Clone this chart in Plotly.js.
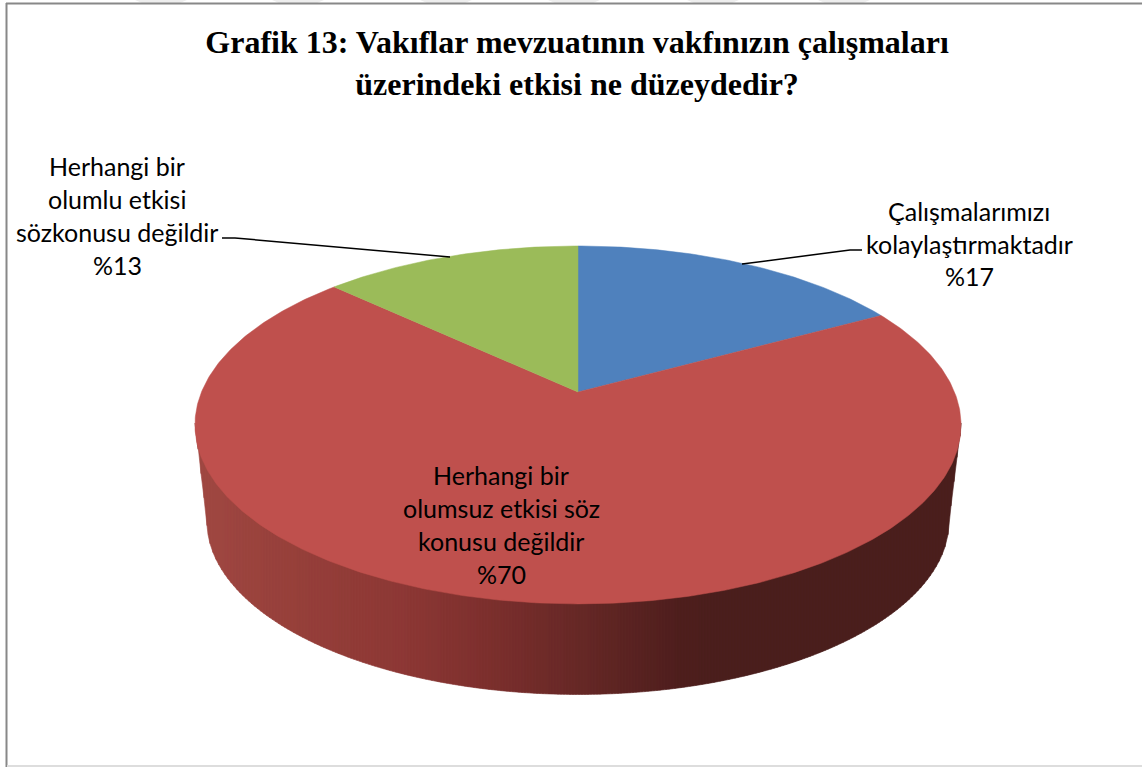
<!DOCTYPE html>
<html><head><meta charset="utf-8">
<script src="https://cdn.plot.ly/plotly-3.0.1.min.js"></script>
<style>html,body{margin:0;padding:0;background:#fff}#c{width:1142px;height:767px}</style>
</head><body><div id="c"></div>
<script>
const titleText = "Grafik 13: Vakıflar mevzuatının vakfınızın çalışmaları<br>üzerindeki etkisi ne düzeydedir?";
const categories = ["Çalışmalarımızı kolaylaştırmaktadır","Herhangi bir olumsuz etkisi söz konusu değildir","Herhangi bir olumlu etkisi sözkonusu değildir"];
const values = [17,70,13];
const sliceColors = ["#4F81BD","#BF504D","#9BBB59"];
const labelLines = [
  ["Çalışmalarımızı","kolaylaştırmaktadır","%17"],
  ["Herhangi bir","olumsuz etkisi söz","konusu değildir","%70"],
  ["Herhangi bir","olumlu etkisi","sözkonusu değildir","%13"]
];
const labelX = [969,501,117];
const labelY = [[211,244,276],[475,508,541,574],[166,199,232,265]];
const leaderX = [[742,850,862],null,[450,235,222]];
const leaderY = [[264,250,250],null,[257,238,238]];
const shadeX = [195,300,400,480,580,680,725,965];
const shadeR = [160,150,141,126,102,78,74,74];
const shadeG = [72,63,56,48,40,30,30,30];
const shadeB = [66,58,53,46,38,29,29,29];
const stripeStart = [135,272,420,548,687,818];

// perspective disc: apex and radii in page pixels
const cx=578, cy=392, A=172.9, D=376.5, C=0.184;
function proj(a){ // a = clockwise fraction of the turn from top
  const t=a*2*Math.PI, u=Math.sin(t), v=Math.cos(t), w=1+C*v;
  return [cx+D*u/w, cy-A*v/w];
}
const ex=383, ey=179, ecy=425, bs=0.969, bcy=521;
const traces=[];
function shade(x){
  let i=0; while(i<shadeX.length-2 && x>shadeX[i+1]) i++;
  const f=Math.min(1,Math.max(0,(x-shadeX[i])/(shadeX[i+1]-shadeX[i])));
  const m=a=>Math.round(a[i]+(a[i+1]-a[i])*f);
  return `rgb(${m(shadeR)},${m(shadeG)},${m(shadeB)})`;
}
function topY(dx){return ecy+ey*Math.sqrt(Math.max(0,1-dx*dx/(ex*ex)));}
function botY(dx){
  const r=ex*bs, a=Math.abs(dx);
  if(a>=r) return ecy+(ex-a)/(ex-r)*(bcy-ecy);
  return bcy+ey*bs*Math.sqrt(1-a*a/(r*r));
}
for(let x=cx-ex;x<cx+ex;x+=3){
  const xs=[],ys=[],b=[];
  for(let k=0;k<=3;k++){const p=Math.min(x+k,cx+ex);xs.push(p);ys.push(topY(p-cx)-2);b.push([p,botY(p-cx)]);}
  b.reverse().forEach(q=>{xs.push(q[0]);ys.push(q[1]);});
  xs.push(xs[0]);ys.push(ys[0]);
  traces.push({type:"scatter",mode:"lines",x:xs,y:ys,fill:"toself",fillcolor:shade(x),
    line:{color:shade(x),width:0.6},hoverinfo:"skip",showlegend:false});
}
const total=values.reduce((a,b)=>a+b,0);
let acc=0;
values.forEach((v,i)=>{
  const xs=[cx],ys=[cy],n=Math.max(8,Math.round(v*6));
  for(let k=0;k<=n;k++){const p=proj((acc+v*k/n)/total);xs.push(p[0]);ys.push(p[1]);}
  xs.push(cx);ys.push(cy);
  traces.push({type:"scatter",mode:"lines",x:xs,y:ys,fill:"toself",fillcolor:sliceColors[i],
    line:{color:sliceColors[i],width:0.5},name:categories[i],text:v+"%",hoverinfo:"name+text",showlegend:false});
  acc+=v;
});
leaderX.forEach((lx,i)=>{ if(lx) traces.push({type:"scatter",mode:"lines",x:lx,y:leaderY[i],
  line:{color:"#000",width:1.5},hoverinfo:"skip",showlegend:false});});

const annotations=[];
labelLines.forEach((ls,i)=>ls.forEach((s,j)=>annotations.push({
  text:s,x:labelX[i],y:labelY[i][j],xref:"x",yref:"y",xanchor:"center",yanchor:"middle",showarrow:false,
  font:{family:"Lato, Carlito, sans-serif",size:25,color:"#000"}})));
const frame={color:"#888888",width:2};
const stripes=stripeStart.map(s=>({type:"path",xref:"x",yref:"y",
  path:`M ${s} 0 L ${s+52} 0 L ${s+45} 3 L ${s+7} 3 Z`,fillcolor:"#eeeeee",line:{width:0},layer:"below"}));
const layout={
  width:1142,height:767,margin:{l:0,r:0,t:0,b:0},paper_bgcolor:"#fff",plot_bgcolor:"#fff",showlegend:false,
  xaxis:{range:[0,1142],visible:false,fixedrange:true},
  yaxis:{range:[767,0],visible:false,fixedrange:true},
  title:{text:titleText,x:0.5053,xanchor:"center",y:0.931,yanchor:"middle",
    font:{family:"Liberation Serif, serif",size:32,color:"#000",weight:700}},
  annotations,
  shapes:stripes.concat([
    {type:"line",xref:"x",yref:"y",x0:6.5,x1:6.5,y0:3,y1:767,line:frame},
    {type:"line",xref:"x",yref:"y",x0:6,x1:1142,y0:3.5,y1:3.5,line:frame},
    {type:"line",xref:"x",yref:"y",x0:7,x1:1142,y0:766,y1:766,line:{color:"#dddddd",width:2}}
  ])
};
Plotly.newPlot("c",traces,layout,{displayModeBar:false,staticPlot:true});
</script></body></html>
